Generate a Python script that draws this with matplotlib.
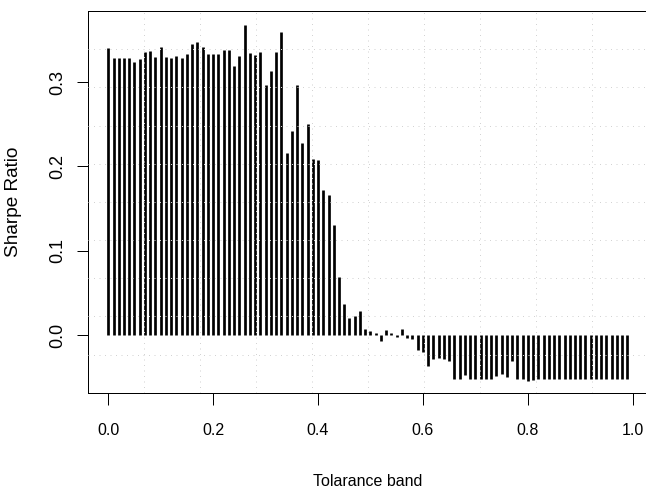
import numpy as np
import matplotlib
matplotlib.use("Agg")
import matplotlib.pyplot as plt

plt.rcParams['font.family'] = ['Liberation Sans', 'DejaVu Sans']

# Tolerance band values (0.00 .. 0.99)
tolerance = [round(i * 0.01, 2) for i in range(100)]

sharpe = [
    0.340, 0.328, 0.329, 0.328, 0.328, 0.3235, 0.327, 0.336, 0.337, 0.330,
    0.3416, 0.330, 0.328, 0.331, 0.329, 0.333, 0.345, 0.348, 0.3416, 0.3337,
    0.333, 0.333, 0.3375, 0.3375, 0.3187, 0.3306, 0.368, 0.334, 0.332, 0.3353,
    0.296, 0.313, 0.3353, 0.359, 0.2155, 0.2424, 0.297, 0.228, 0.250, 0.2084,
    0.2072, 0.1716, 0.1657, 0.130, 0.069, 0.037, 0.0198, 0.022, 0.0285, 0.0067,
    0.005, 0.002, -0.007, 0.006, 0.002, -0.002, 0.0075, -0.004, -0.005, -0.0178,
    -0.0206, -0.0364, -0.029, -0.0277, -0.028, -0.031, -0.0518, -0.0518, -0.048, -0.0518,
    -0.0522, -0.0526, -0.0526, -0.052, -0.0486, -0.0463, -0.0494, -0.0304, -0.0526, -0.0526,
    -0.0542, -0.053, -0.0526, -0.0526, -0.0526, -0.0526, -0.0526, -0.0526, -0.0526, -0.0526,
    -0.0526, -0.0526, -0.0526, -0.0526, -0.0526, -0.0526, -0.0526, -0.0526, -0.0526, -0.0526,
]

x_ticks = [0.0, 0.2, 0.4, 0.6, 0.8, 1.0]
x_tick_labels = ["0.0", "0.2", "0.4", "0.6", "0.8", "1.0"]
y_ticks = [0.0, 0.1, 0.2, 0.3]
y_tick_labels = ["0.0", "0.1", "0.2", "0.3"]

W, H = 646, 491
fig = plt.figure(figsize=(W / 72, H / 72), dpi=72)
fig.patch.set_facecolor("white")
ax = fig.add_axes([87.5 / W, (H - 392.7) / H, 560.7 / W, 381.7 / H])

ax.vlines(tolerance, 0, sharpe, colors="black", linewidth=2.7, zorder=2,
          capstyle="butt")

xlo, xhi = -0.0396, 1.0296
ylo, yhi = -0.0684, 0.3843
ax.set_xlim(xlo, xhi)
ax.set_ylim(ylo, yhi)

# grid: 10 equal cells like R's grid(10, 10)
for k in range(1, 10):
    gx = xlo + k * (xhi - xlo) / 10
    gy = ylo + k * (yhi - ylo) / 10
    ax.axvline(gx, color="#D3D3D3", linewidth=1, linestyle=(0, (1, 4.5)), zorder=3)
    ax.axhline(gy, color="#D3D3D3", linewidth=1, linestyle=(0, (1, 4.5)), zorder=3)

ax.set_xticks(x_ticks)
ax.set_xticklabels(x_tick_labels)
ax.set_yticks(y_ticks)
ax.set_yticklabels(y_tick_labels, rotation=90, va="center")

ax.tick_params(axis="x", length=12, width=1, color="black", pad=18, labelsize=16)
ax.tick_params(axis="y", length=11, width=1, color="black", pad=10, labelsize=18)

for s in ax.spines.values():
    s.set_color("black")
    s.set_linewidth(1)

ax.set_xlabel("Tolarance band", fontsize=16, labelpad=36)
ax.set_ylabel("Sharpe Ratio", fontsize=19, labelpad=27)

fig.savefig("out.png", dpi=72, facecolor="white")
